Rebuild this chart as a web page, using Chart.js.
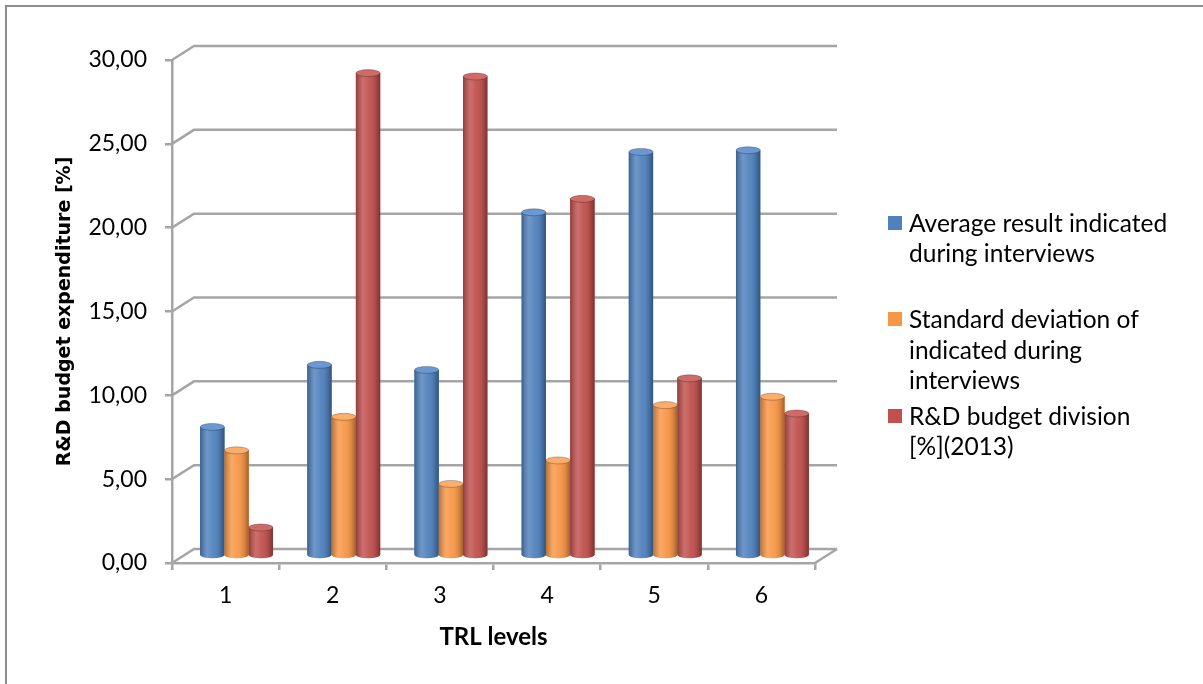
<!DOCTYPE html>
<html>
<head>
<meta charset="utf-8">
<script src="https://cdn.jsdelivr.net/npm/chart.js@4"></script>
<style>
  body { margin: 0; background: #fff; }
  #wrap { position: relative; width: 1203px; height: 684px; }
  #legend .item { position: absolute; left: 888px; font-family: Lato, sans-serif; font-size: 24.5px; line-height: 30.5px; color: #000; }
  #legend .sw { position: absolute; left: 0; top: 8px; width: 14px; height: 14px; }
  #legend .txt { position: absolute; left: 21px; white-space: pre; }
</style>
</head>
<body>
<div id="wrap">
  <canvas id="bieuDo" width="1203" height="684"></canvas>
  <div id="legend"></div>
</div>
<script>
// du lieu doc tu hinh
const trlLevels = ['1', '2', '3', '4', '5', '6'];
const averageResult = [7.7, 11.4, 11.1, 20.5, 24.1, 24.2];
const standardDeviation = [6.3, 8.3, 4.3, 5.7, 9.0, 9.5];
const budgetDivision = [1.7, 28.8, 28.6, 21.3, 10.6, 8.5];
const seriesNames = [
    'Average result indicated\nduring interviews',
    'Standard deviation of\nindicated during\ninterviews',
    'R&D budget division\n[%](2013)'
];
const seriesColors = ['#4f81bd', '#f79646', '#c0504d'];
const topColors = ['#6a98d2', '#fbad6c', '#d06a67'];

// do sau 3D
const DX = 22, DY = -14, RY = 3.5;

const khungPlugin = {
    id: 'khung',
    beforeDraw(chart) {
        const ctx = chart.ctx;
        ctx.save();
        ctx.strokeStyle = '#8c8c8c';
        ctx.lineWidth = 2;
        ctx.beginPath();
        ctx.moveTo(6, 684);
        ctx.lineTo(6, 6);
        ctx.lineTo(1203, 6);
        ctx.stroke();
        ctx.restore();
    },
    beforeDatasetsDraw(chart) {
        const { ctx, chartArea, scales } = chart;
        ctx.save();
        ctx.strokeStyle = '#a5a5a5';
        ctx.lineWidth = 2.5;
        scales.y.ticks.forEach(t => {
            const y = scales.y.getPixelForValue(t.value);
            ctx.beginPath();
            ctx.moveTo(chartArea.left, y);
            ctx.lineTo(chartArea.left + DX, y + DY);
            ctx.lineTo(chartArea.right + DX, y + DY);
            ctx.stroke();
        });
        ctx.beginPath();
        ctx.moveTo(chartArea.right, chartArea.bottom);
        ctx.lineTo(chartArea.right + DX, chartArea.bottom + DY);
        ctx.stroke();
        ctx.restore();
        // cot nam o giua chieu sau
        ctx.save();
        ctx.translate(DX / 2, DY / 2);
    },
    afterDatasetsDraw(chart) {
        const ctx = chart.ctx;
        chart.data.datasets.forEach((ds, i) => {
            const meta = chart.getDatasetMeta(i);
            meta.data.forEach(bar => {
                const { x, y, base, width } = bar.getProps(['x', 'y', 'base', 'width'], true);
                const l = x - width / 2, r = x + width / 2;
                // day tron
                ctx.beginPath();
                ctx.moveTo(l, y);
                ctx.lineTo(l, base);
                ctx.ellipse(x, base, width / 2, RY, 0, Math.PI, 0, true);
                ctx.lineTo(r, y);
                ctx.closePath();
                ctx.fillStyle = seriesColors[i];
                ctx.fill();
                const g = ctx.createLinearGradient(l, 0, r, 0);
                g.addColorStop(0, 'rgba(0,0,0,0.25)');
                g.addColorStop(0.3, 'rgba(255,255,255,0.18)');
                g.addColorStop(0.55, 'rgba(255,255,255,0.05)');
                g.addColorStop(0.85, 'rgba(0,0,0,0.15)');
                g.addColorStop(1, 'rgba(0,0,0,0.35)');
                ctx.fillStyle = g;
                ctx.fill();
                // mat tren
                ctx.beginPath();
                ctx.ellipse(x, y, width / 2, RY, 0, 0, Math.PI * 2);
                ctx.fillStyle = topColors[i];
                ctx.fill();
                ctx.strokeStyle = 'rgba(0,0,0,0.25)';
                ctx.lineWidth = 1;
                ctx.stroke();
            });
        });
        ctx.restore();
    }
};

const ctx = document.getElementById('bieuDo').getContext('2d');
new Chart(ctx, {
    type: 'bar',
    data: {
        labels: trlLevels,
        datasets: [
            { label: seriesNames[0], data: averageResult, backgroundColor: seriesColors[0] },
            { label: seriesNames[1], data: standardDeviation, backgroundColor: seriesColors[1] },
            { label: seriesNames[2], data: budgetDivision, backgroundColor: seriesColors[2] }
        ]
    },
    options: {
        responsive: false,
        animation: false,
        layout: { padding: { top: 60, right: 388, bottom: 0, left: 0 } },
        datasets: {
            bar: { categoryPercentage: 0.68, barPercentage: 1.0 }
        },
        plugins: {
            legend: { display: false },
            tooltip: { enabled: false }
        },
        scales: {
            x: {
                afterFit(scale) { scale.height = 121; },
                grid: { drawOnChartArea: false, offset: true, tickLength: 7, tickColor: '#a5a5a5', lineWidth: 2.5 },
                border: { display: true, color: '#a5a5a5', width: 2.5 },
                ticks: { color: '#000', padding: 12, font: { family: 'Lato', size: 23 } },
                title: {
                    display: true,
                    text: 'TRL levels',
                    color: '#000',
                    padding: { top: 0, bottom: 32 },
                    font: { family: 'Lato', size: 24, weight: 'bold' }
                }
            },
            y: {
                min: 0,
                max: 30,
                afterFit(scale) { scale.width = 172; },
                grid: { drawOnChartArea: false, tickLength: 7, tickColor: '#a5a5a5', lineWidth: 2.5 },
                border: { display: true, color: '#a5a5a5', width: 2.5 },
                ticks: {
                    stepSize: 5,
                    color: '#000',
                    padding: 18,
                    font: { family: 'Lato', size: 23 },
                    callback: v => v.toFixed(2).replace('.', ',')
                },
                title: {
                    display: true,
                    text: 'R&D budget expenditure [%]',
                    color: '#000',
                    padding: { top: 54, bottom: 0 },
                    font: { family: 'DejaVu Sans', size: 19, weight: 'bold' }
                }
            }
        }
    },
    plugins: [khungPlugin]
});

// chu thich ben phai
const legendEl = document.getElementById('legend');
seriesNames.forEach((name, i) => {
    const item = document.createElement('div');
    item.className = 'item';
    item.style.top = (207.5 + i * 96.6) + 'px';
    const sw = document.createElement('span');
    sw.className = 'sw';
    sw.style.background = seriesColors[i];
    const txt = document.createElement('span');
    txt.className = 'txt';
    txt.textContent = name;
    item.appendChild(sw);
    item.appendChild(txt);
    legendEl.appendChild(item);
});
</script>
</body>
</html>
